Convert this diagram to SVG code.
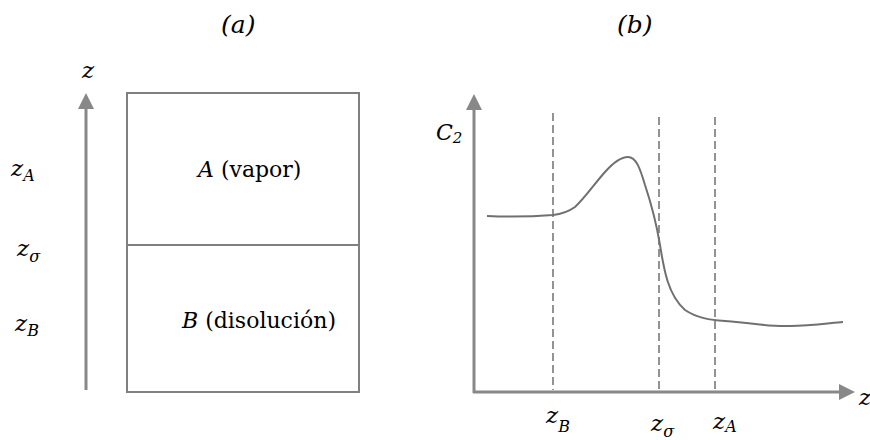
<svg xmlns="http://www.w3.org/2000/svg" width="870" height="440" viewBox="0 0 870 440">
<style>
text{font-family:'DejaVu Serif',serif;font-size:22px;fill:#000}
.i{font-style:italic}
.z{font-size:23px}
.s{font-size:16px}
.h{font-size:25px}
.ax{stroke:#888;stroke-width:3;fill:none}
.bx{stroke:#808080;stroke-width:2;fill:none}
.dash{stroke:#666;stroke-width:1.4;stroke-dasharray:8,4;fill:none}
.cv{stroke:#707070;stroke-width:2;fill:none}
</style>
<defs>
<marker id="ah" viewBox="0 0 16 16" refX="0" refY="8" markerWidth="16" markerHeight="16" markerUnits="userSpaceOnUse" orient="auto">
<path d="M0,0 L16,8 L0,16 Z" fill="#888"/>
</marker>
</defs>
<text class="i h" x="221" y="33">(a)</text>
<text class="i h" x="617" y="33">(b)</text>
<g id="panel-a">
<g id="box">
<rect class="bx" x="127" y="93" width="232" height="299"/>
<line class="bx" x1="127" y1="245" x2="359" y2="245"/>
</g>
<g id="node-A"><text x="198" y="177"><tspan class="i">A</tspan> (vapor)</text></g>
<g id="node-B"><text x="182" y="328"><tspan class="i">B</tspan> (disolución)</text></g>
<g id="zlabels-left">
<text class="i z" x="82" y="78">z</text>
<text class="i z" x="11" y="176">z<tspan class="s" dy="5">A</tspan></text>
<text class="i z" x="17" y="256">z<tspan class="s" dy="6">σ</tspan></text>
<text class="i z" x="15" y="331">z<tspan class="s" dy="5">B</tspan></text>
</g>
</g>
<g id="panel-b">
<text class="i" x="436" y="140" style="font-size:22px">C<tspan dy="3" style="font-size:15px">2</tspan></text>
<g id="dashed">
<line class="dash" x1="553" y1="113" x2="553" y2="390"/>
<line class="dash" x1="659" y1="117" x2="659" y2="390"/>
<line class="dash" x1="715" y1="117" x2="715" y2="390"/>
</g>
<path id="curve" class="cv" d="M487,216 C510,217 540,216 553,215 C562,214 568,212 575,207 C585,198 595,183 605,172 C613,163 620,157 628,157 C636,157 640,168 645,185 C650,200 655,215 660,245 C664,270 668,295 685,310 C697,318 710,320 725,321 C755,323 770,327 790,326 C810,326 830,323 843,322"/>
<text class="i z" x="546" y="423">z<tspan class="s" dy="9">B</tspan></text>
<text class="i z" x="651" y="431">z<tspan class="s" dy="6">σ</tspan></text>
<text class="i z" x="713" y="429">z<tspan class="s" dy="3">A</tspan></text>
<text class="i z" x="859" y="405">z</text>
</g>
<g id="connectors">
<line class="ax" x1="86" y1="390" x2="86" y2="109" marker-end="url(#ah)"/>
<line class="ax" x1="474" y1="393" x2="474" y2="110" marker-end="url(#ah)"/>
<line class="ax" x1="473" y1="392" x2="839" y2="392" marker-end="url(#ah)"/>
</g>
</svg>
